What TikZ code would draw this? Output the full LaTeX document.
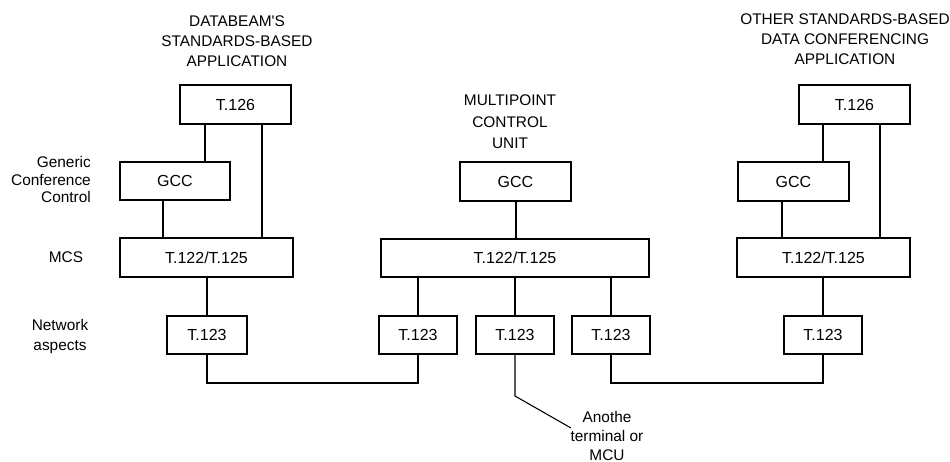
\documentclass[tikz,border=0pt]{standalone}
\usepackage{fontspec}
\setmainfont{Liberation Sans}[Ligatures=TeXOff]
\begin{document}
\begin{tikzpicture}[x=1pt,y=-1pt,
  box/.style={draw, line width=1.1pt, inner sep=0pt, font=\fontsize{16}{18}\selectfont},
  lbl/.style={inner sep=0pt, align=center, font=\fontsize{15.4}{20}\selectfont},
  wire/.style={line width=1.1pt}]
\useasboundingbox (0,0) rectangle (950,462);
% boxes left
\node[box, minimum width=111pt, minimum height=39pt] (t126L) at (235.5,104.5) {T.126};
\node[box, minimum width=110pt, minimum height=38pt] (gccL) at (175,181) {GCC};
\node[box, minimum width=173pt, minimum height=39pt] (t122L) at (206.5,257.5) {T.122/T.125};
% middle
\node[box, minimum width=111pt, minimum height=39pt] (gccM) at (515.5,181.5) {GCC};
\node[box, minimum width=268pt, minimum height=38pt] (t122M) at (515,258) {T.122/T.125};
% right
\node[box, minimum width=111pt, minimum height=39pt] (t126R) at (854.5,104.5) {T.126};
\node[box, minimum width=111pt, minimum height=39pt] (gccR) at (793.5,181.5) {GCC};
\node[box, minimum width=173pt, minimum height=39pt] (t122R) at (823.5,257.5) {T.122/T.125};
% T.123 row
\node[box, minimum width=80pt, minimum height=38pt] (n1) at (207,335) {T.123};
\node[box, minimum width=78pt, minimum height=38pt] (n2) at (418,335) {T.123};
\node[box, minimum width=78pt, minimum height=38pt] (n3) at (515,335) {T.123};
\node[box, minimum width=78pt, minimum height=38pt] (n4) at (611,335) {T.123};
\node[box, minimum width=78pt, minimum height=38pt] (n5) at (823,335) {T.123};
% titles
\node[lbl] (titL) at (237,41) {DATABEAM'S\\STANDARDS-BASED\\APPLICATION};
\node[lbl, font=\fontsize{15.4}{21.5}\selectfont] (titM) at (510,122) {MULTIPOINT\\CONTROL\\UNIT};
\node[lbl] (titR) at (845,39) {OTHER STANDARDS-BASED\\DATA CONFERENCING\\APPLICATION};
% side labels
\node[lbl, align=right, font=\fontsize{15.4}{17.5}\selectfont, anchor=east] (gccLbl) at (91,179.5) {Generic\\Conference\\Control};
\node[lbl] (mcsLbl) at (66,257) {MCS};
\node[lbl] (netLbl) at (60,337) {Network\\aspects};
\node[lbl, font=\fontsize{15.4}{19}\selectfont] (other) at (607,436) {Anothe\\terminal or\\MCU};
% connectors left
\draw[wire] (205,0 |- t126L.south) -- (205,0 |- gccL.north);
\draw[wire] (262,0 |- t126L.south) -- (262,0 |- t122L.north);
\draw[wire] (163,0 |- gccL.south) -- (163,0 |- t122L.north);
\draw[wire] (n1.north) -- (n1.north |- t122L.south);
% middle
\draw[wire] (gccM.south -| 516,0) -- (t122M.north -| 516,0);
\draw[wire] (n2.north) -- (n2.north |- t122M.south);
\draw[wire] (n3.north) -- (n3.north |- t122M.south);
\draw[wire] (n4.north) -- (n4.north |- t122M.south);
% right
\draw[wire] (823,0 |- t126R.south) -- (823,0 |- gccR.north);
\draw[wire] (880,0 |- t126R.south) -- (880,0 |- t122R.north);
\draw[wire] (782,0 |- gccR.south) -- (782,0 |- t122R.north);
\draw[wire] (n5.north) -- (n5.north |- t122R.south);
% bottom links
\coordinate (b1) at (207,383);
\coordinate (b4) at (611,383);
\coordinate (k3) at (515,396);
\coordinate (e3) at (571,428);
\draw[wire] (n1.south) -- (b1) -- (b1 -| n2.south) -- (n2.south);
\draw[wire] (n4.south) -- (b4) -- (b4 -| n5.south) -- (n5.south);
\draw[wire] (n3.south) -- (k3) -- (e3);
\end{tikzpicture}
\end{document}
